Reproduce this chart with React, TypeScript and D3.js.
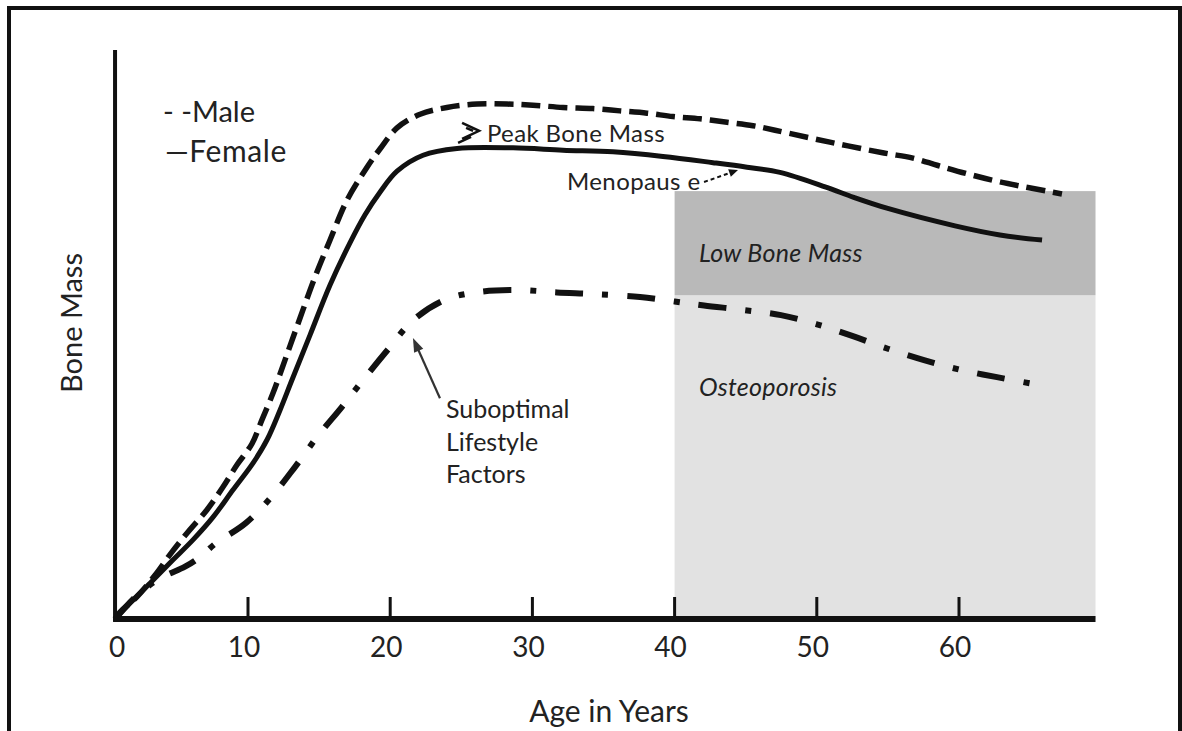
import React from "react";
import * as d3 from "d3";

// ---------- data ----------
const ageTicks = [10, 20, 30, 40, 50, 60];
const originAge = 0.65; // where the bone-mass axis crosses the age axis ("0")
const maxAge = 69.6;
const massMax = 100;

const maleAge = [0.65, 1.0, 2.19, 3.46, 4.66, 5.78, 7.12, 8.24, 9.23, 10.28, 10.98, 11.76, 12.6, 13.66, 14.71, 15.77, 16.96, 18.37, 19.28, 20.48, 22.1, 23.99, 26.1, 28.22, 30.04, 32.15, 34.26, 36.16, 38.06, 39.89, 41.79, 43.69, 45.51, 47.06, 50.92, 54.72, 56.76, 58.52, 60.49, 62.39, 64.29, 66.19, 67.24];
const maleMass = [0, 1.2, 3.9, 7.7, 11.8, 15.3, 19.2, 23.2, 27.1, 30.8, 35.0, 39.7, 45.5, 52.9, 60.1, 66.6, 73.6, 79.4, 82.6, 86.3, 88.7, 89.9, 90.5, 90.5, 90.3, 89.9, 89.7, 89.3, 88.9, 88.3, 87.9, 87.3, 86.7, 85.9, 83.8, 81.9, 81.0, 79.7, 78.3, 77.1, 76.1, 75.2, 74.7];

const femaleAge = [0.65, 1.7, 3.11, 4.73, 6.13, 7.54, 8.95, 10.35, 11.34, 12.25, 13.09, 14.36, 15.77, 17.17, 18.22, 19.28, 20.48, 22.31, 24.7, 28.64, 32.15, 35.67, 39.18, 42.7, 45.09, 47.41, 50.64, 52.6, 54.93, 59.72, 62.88, 65.84];
const femaleMass = [0, 2.8, 6.3, 10.4, 13.9, 17.9, 22.7, 27.4, 31.5, 36.7, 42.0, 49.9, 58.7, 66.1, 71.0, 75.0, 78.7, 81.5, 82.7, 82.8, 82.4, 82.1, 81.3, 80.2, 79.4, 78.5, 75.9, 74.1, 72.2, 69.1, 67.5, 66.6];

const suboptAge = [0.65, 2.05, 3.11, 4.16, 5.57, 6.62, 7.68, 9.86, 11.69, 13.3, 14.92, 16.61, 18.09, 19.92, 21.6, 23.85, 26.32, 29.13, 31.73, 34.4, 37.57, 40.0, 42.07, 44.88, 47.48, 50.01, 52.54, 55.0, 57.54, 60.07, 62.67, 65.27, 66.19];
const suboptMass = [0, 3.8, 6.0, 7.6, 9.2, 10.9, 13.2, 16.9, 21.6, 26.7, 32.2, 37.3, 42.0, 47.6, 52.5, 56.1, 57.5, 57.8, 57.4, 57.1, 56.6, 55.8, 55.1, 54.3, 53.4, 51.8, 49.7, 47.5, 45.5, 43.8, 42.5, 41.3, 40.9];

// zones: [ageFrom, ageTo, massFrom, massTo]
const lowBoneZone = [40, 69.6, 56.9, 75.2];
const osteoZone = [40, 69.6, 0, 56.9];

const legendLabels = ["- -Male", "\u2014Female"];
const lifestyleLines = ["Suboptimal", "Lifestyle", "Factors"];

// ---------- layout ----------
const W = 1182;
const H = 731;
const FONT = "Lato, 'Open Sans', sans-serif";
const INK = "#111";
const TXT = "#222";

const x = d3.scaleLinear().domain([10, 60]).range([248, 959]);
const y = d3.scaleLinear().domain([0, massMax]).range([619, 50]);

const zip = (a: number[], b: number[]) => a.map((v, i) => [v, b[i]] as [number, number]);
const line = d3
  .line<[number, number]>()
  .x((d) => x(d[0]))
  .y((d) => y(d[1]))
  .curve(d3.curveCatmullRom.alpha(0.5));

export default function App() {
  const ox = x(originAge);
  const oy = y(0);
  const zone = (z: number[]) => ({
    x: x(z[0]),
    y: y(z[3]),
    width: x(z[1]) - x(z[0]),
    height: y(z[2]) - y(z[3]),
  });

  // annotation anchors (data coords)
  const peakTip = [x(26.25), y(85.8)];
  const menoFrom = [x(42.07), y(76.8)];
  const menoTo = [x(44.46), y(78.9)];
  const subFrom = [x(23.5), y(38.8)];
  const subTo = [x(21.6), y(49.4)];
  const subAng = Math.atan2(subTo[1] - subFrom[1], subTo[0] - subFrom[0]);
  const menoAng = Math.atan2(menoTo[1] - menoFrom[1], menoTo[0] - menoFrom[0]);
  const head = (tip: number[], ang: number, len: number, half: number) => {
    const bx = tip[0] - len * Math.cos(ang);
    const by = tip[1] - len * Math.sin(ang);
    const px = -Math.sin(ang) * half;
    const py = Math.cos(ang) * half;
    return `M${tip[0]},${tip[1]}L${bx + px},${by + py}L${bx - px},${by - py}Z`;
  };

  return (
    <svg
      width={W}
      height={H}
      style={{ position: "absolute", left: 0, top: 0, background: "#fff" }}
      fontFamily={FONT}
    >
      <rect x={0} y={0} width={W} height={H} fill="#fff" />
      {/* frame */}
      <rect x={9} y={8} width={1171} height={800} fill="none" stroke={INK} strokeWidth={4} />

      {/* zones */}
      <rect {...zone(osteoZone)} fill="#e2e2e2" />
      <rect {...zone(lowBoneZone)} fill="#b9b9b9" />

      {/* curves */}
      <path d={line(zip(maleAge, maleMass)) || ""} fill="none" stroke={INK} strokeWidth={5.5} strokeDasharray="19 8" />
      <path d={line(zip(femaleAge, femaleMass)) || ""} fill="none" stroke={INK} strokeWidth={5} />
      <path d={line(zip(suboptAge, suboptMass)) || ""} fill="none" stroke={INK} strokeWidth={6} strokeDasharray="28 19 6 19" />

      {/* axes */}
      <line x1={ox} x2={ox} y1={y(0) + 2} y2={y(massMax)} stroke={INK} strokeWidth={4} />
      <line x1={ox - 2} x2={x(maxAge)} y1={oy} y2={oy} stroke={INK} strokeWidth={6} />
      {ageTicks.map((t) => (
        <line key={t} x1={x(t)} x2={x(t)} y1={oy} y2={oy - 22} stroke={INK} strokeWidth={3} />
      ))}
      <text x={ox + 2} y={657} fontSize={28} fill={TXT} textAnchor="middle">0</text>
      {ageTicks.map((t) => (
        <text key={t} x={x(t) - 4} y={657} fontSize={28} fill={TXT} textAnchor="middle">
          {t}
        </text>
      ))}
      <text x={609} y={722} fontSize={30} fill={TXT} textAnchor="middle">Age in Years</text>
      <text transform="translate(82,323) rotate(-90)" fontSize={29} fill={TXT} textAnchor="middle">Bone Mass</text>

      {/* legend */}
      <text x={x(4.02)} y={y(87.3)} fontSize={29} fill={TXT}>{legendLabels[0]}</text>
      <text x={x(4.16)} y={y(80.3)} fontSize={30} fill={TXT} letterSpacing={0.6}>{legendLabels[1]}</text>

      {/* annotations */}
      <path
        d={`M${peakTip[0] - 17},${peakTip[1] - 8}L${peakTip[0]},${peakTip[1]}L${peakTip[0] - 17},${peakTip[1] + 8}M${peakTip[0] - 13},${peakTip[1] - 3}L${peakTip[0] - 6},${peakTip[1]}M${peakTip[0] - 21},${peakTip[1] + 12}L${peakTip[0] - 8},${peakTip[1] + 6}`}
        fill="none"
        stroke={INK}
        strokeWidth={2.5}
      />
      <text x={x(26.8)} y={y(83.8)} fontSize={24} fill={TXT} letterSpacing={0.4}>Peak Bone Mass</text>
      <text x={x(32.43)} y={y(75.4)} fontSize={24} fill={TXT} letterSpacing={0.4}>Menopaus e</text>
      <line x1={menoFrom[0]} y1={menoFrom[1]} x2={menoTo[0] - 6 * Math.cos(menoAng)} y2={menoTo[1] - 6 * Math.sin(menoAng)} stroke={INK} strokeWidth={2} strokeDasharray="4 3" />
      <path d={head(menoTo, menoAng, 9, 4)} fill={INK} />

      <text x={x(41.71)} y={y(62.7)} fontSize={25} fontStyle="italic" fill={TXT} letterSpacing={0.3}>Low Bone Mass</text>
      <text x={x(41.71)} y={y(39.2)} fontSize={25} fontStyle="italic" fill={TXT} letterSpacing={0.3}>Osteoporosis</text>

      {lifestyleLines.map((s, i) => (
        <text key={s} x={x(23.92)} y={y(35.3) + i * 32.5} fontSize={25} fill={TXT}>
          {s}
        </text>
      ))}
      <line x1={subFrom[0]} y1={subFrom[1]} x2={subTo[0] - 10 * Math.cos(subAng)} y2={subTo[1] - 10 * Math.sin(subAng)} stroke="#333" strokeWidth={2.2} />
      <path d={head(subTo, subAng, 14, 5)} fill="#333" />
    </svg>
  );
}
